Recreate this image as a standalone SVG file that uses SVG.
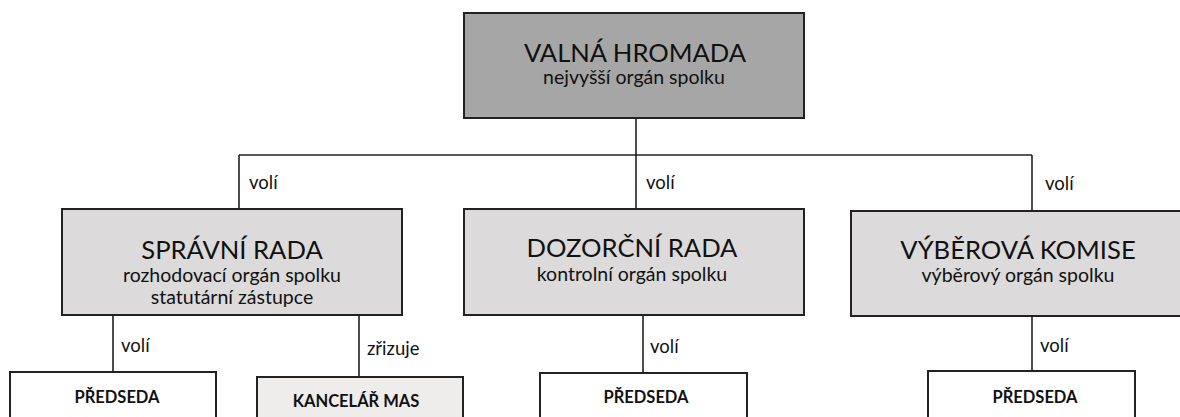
<svg xmlns="http://www.w3.org/2000/svg" width="1180" height="417" viewBox="0 0 1180 417">
<style>
.box{stroke:#222;stroke-width:2}
.top{fill:#a6a6a6}
.mid{fill:#dcdada}
.kan{fill:#efedec}
.ped{fill:#ffffff}
.ln{stroke:#222;stroke-width:1.6;fill:none}
text{font-family:Lato,"Open Sans","Liberation Sans",sans-serif;fill:#111}
.t1{font-size:25.6px;text-anchor:middle}
.t2{font-size:19.5px;text-anchor:middle}
.t3{font-size:16.5px;font-weight:bold;text-anchor:middle}
.lb{font-size:18.5px}
</style>
<rect width="1180" height="417" fill="#fff"/>
<g id="connectors">
<path class="ln" d="M636 118V155M239 155H1032M239 155V209M636 155V209M1032 155V211"/>
<path class="ln" d="M113 315V372M359 315V377M643 315V373M1032 316V371"/>
<text class="lb" x="249" y="189">volí</text>
<text class="lb" x="646" y="189">volí</text>
<text class="lb" x="1045" y="190">volí</text>
<text class="lb" x="121" y="352">volí</text>
<text class="lb" x="367" y="355">zřizuje</text>
<text class="lb" x="650" y="353">volí</text>
<text class="lb" x="1040" y="352">volí</text>
</g>
<g id="valna">
<rect class="box top" x="464" y="13" width="340" height="105"/>
<text class="t1" x="635" y="62">VALNÁ HROMADA</text>
<text class="t2" x="634" y="84">nejvyšší orgán spolku</text>
</g>
<g id="spravni">
<rect class="box mid" x="62" y="209" width="340" height="106"/>
<text class="t1" x="232" y="259">SPRÁVNÍ RADA</text>
<text class="t2" x="232" y="282">rozhodovací orgán spolku</text>
<text class="t2" x="232" y="304">statutární zástupce</text>
</g>
<g id="dozorci">
<rect class="box mid" x="464" y="209" width="340" height="106"/>
<text class="t1" x="632" y="257">DOZORČNÍ RADA</text>
<text class="t2" x="632" y="281">kontrolní orgán spolku</text>
</g>
<g id="vyberova">
<rect class="box mid" x="851" y="211" width="340" height="105"/>
<text class="t1" x="1018" y="259">VÝBĚROVÁ KOMISE</text>
<text class="t2" x="1018" y="282">výběrový orgán spolku</text>
</g>
<g id="predseda1">
<rect class="box ped" x="10" y="372" width="206" height="60"/>
<text class="t3" x="117" y="403">PŘEDSEDA</text>
</g>
<g id="kancelar">
<rect class="box kan" x="257" y="377" width="206" height="60"/>
<text class="t3" x="356" y="407">KANCELÁŘ MAS</text>
</g>
<g id="predseda2">
<rect class="box ped" x="540" y="373" width="207" height="60"/>
<text class="t3" x="646" y="403">PŘEDSEDA</text>
</g>
<g id="predseda3">
<rect class="box ped" x="928" y="371" width="207" height="60"/>
<text class="t3" x="1035" y="403">PŘEDSEDA</text>
</g>
</svg>
